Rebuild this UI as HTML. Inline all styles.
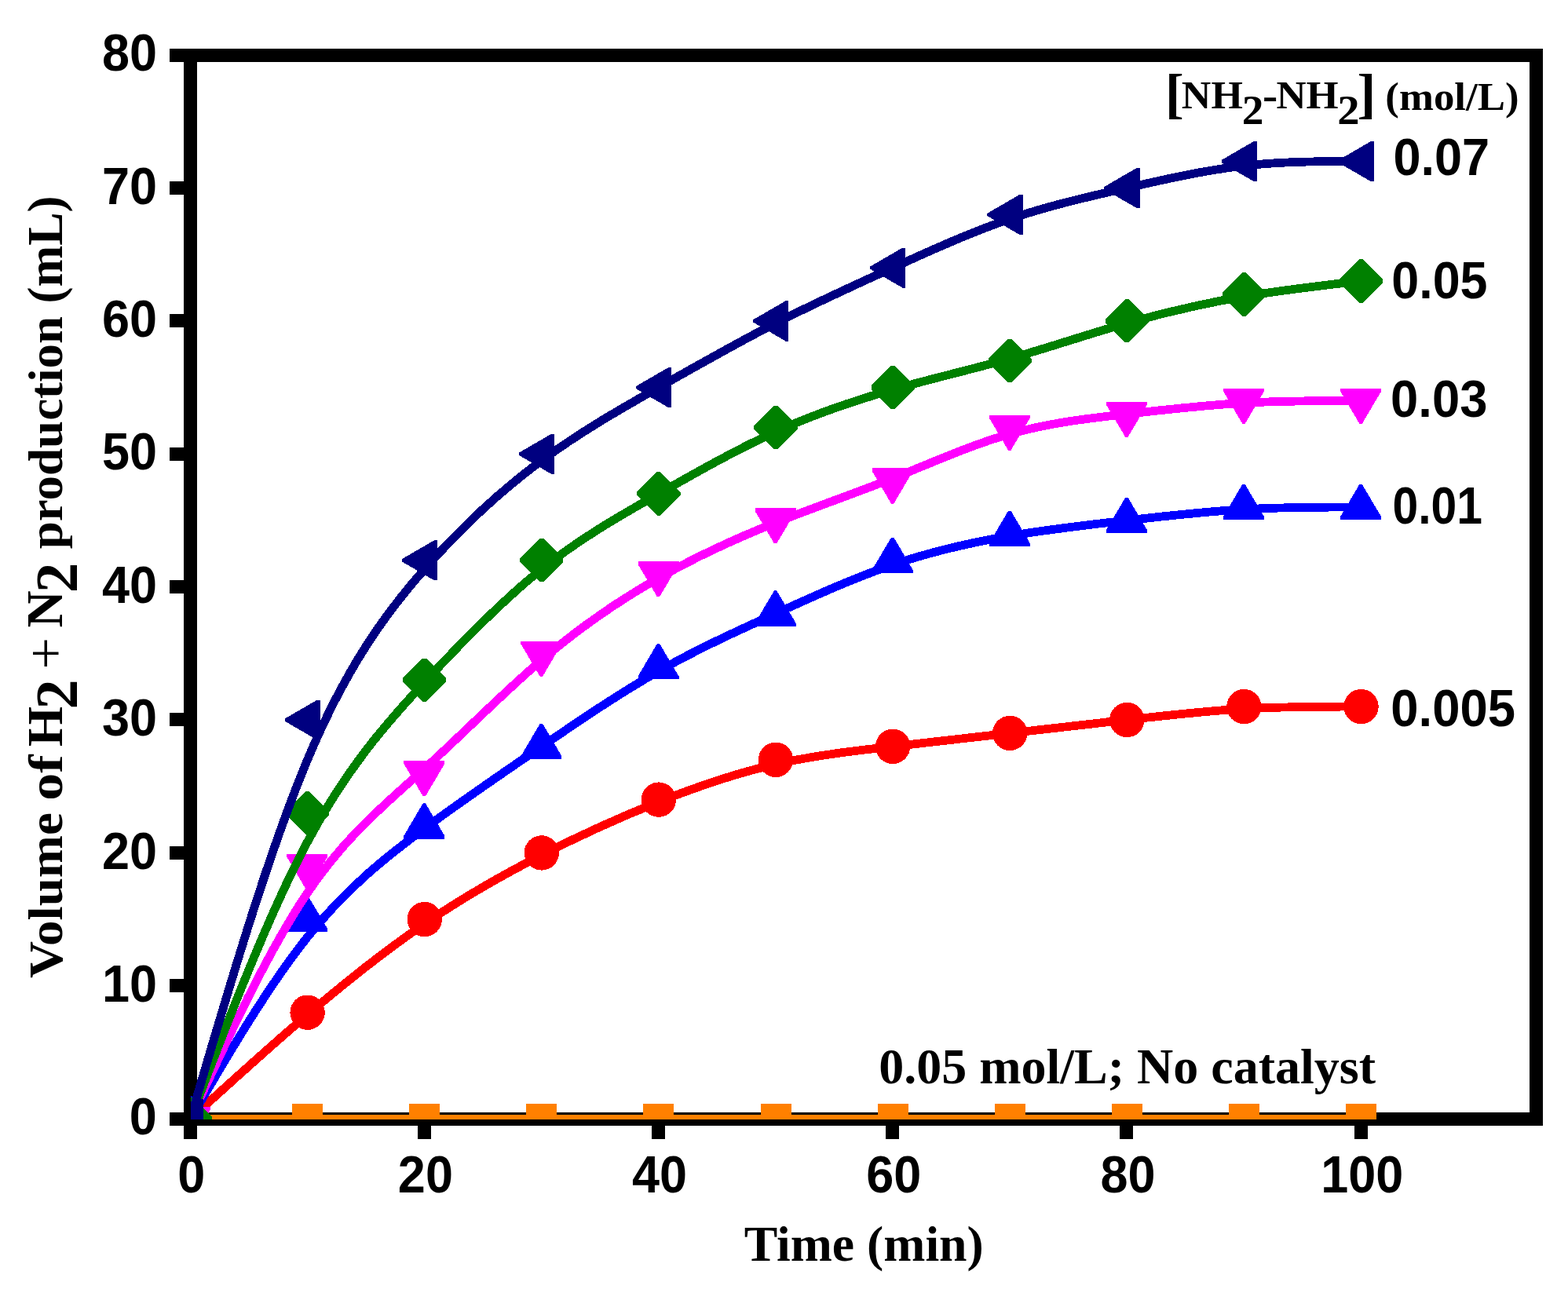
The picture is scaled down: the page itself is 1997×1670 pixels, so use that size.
<!DOCTYPE html>
<html lang="en"><head><meta charset="utf-8"><title>Volume of H2 + N2 production vs Time</title>
<style>
html,body{margin:0;padding:0;background:#fff;}
body{width:1997px;height:1670px;overflow:hidden;}
svg{display:block;}
text{fill:#000;white-space:pre;font-size:100px;}
.sb{font-family:"Liberation Sans",sans-serif;font-weight:bold;}
.rb{font-family:"Liberation Serif",serif;font-weight:bold;}
.rn{font-family:"Liberation Serif",serif;font-weight:normal;}
</style></head><body>
<svg width="1997" height="1670" viewBox="0 0 1997 1670">
<rect width="1997" height="1670" fill="#fff"/>
<defs><clipPath id="plot"><rect x="243" y="70" width="1714" height="1356"/></clipPath></defs>

<g fill="#000" shape-rendering="crispEdges">
<rect x="234" y="62" width="17" height="1389"/>
<rect x="216" y="62" width="1749" height="17"/>
<rect x="1948" y="62" width="17" height="1372"/>
<rect x="216" y="1417" width="1749" height="17"/>
<rect x="216" y="1247" width="18" height="17"/>
<rect x="216" y="1078" width="18" height="17"/>
<rect x="216" y="908" width="18" height="17"/>
<rect x="216" y="739" width="18" height="17"/>
<rect x="216" y="570" width="18" height="17"/>
<rect x="216" y="400" width="18" height="17"/>
<rect x="216" y="231" width="18" height="17"/>
<rect x="532" y="1434" width="17" height="17"/>
<rect x="830" y="1434" width="17" height="17"/>
<rect x="1128" y="1434" width="17" height="17"/>
<rect x="1426" y="1434" width="17" height="17"/>
<rect x="1725" y="1434" width="17" height="17"/>
</g>
<text class="sb" transform="matrix(0.6300,0,0,0.6583,164.85,1445.30)">0</text>
<text class="sb" transform="matrix(0.6300,0,0,0.6583,129.89,1275.92)">10</text>
<text class="sb" transform="matrix(0.6300,0,0,0.6583,129.89,1106.55)">20</text>
<text class="sb" transform="matrix(0.6300,0,0,0.6583,129.89,937.17)">30</text>
<text class="sb" transform="matrix(0.6300,0,0,0.6583,129.89,767.80)">40</text>
<text class="sb" transform="matrix(0.6300,0,0,0.6583,129.89,598.42)">50</text>
<text class="sb" transform="matrix(0.6300,0,0,0.6583,129.89,429.05)">60</text>
<text class="sb" transform="matrix(0.6300,0,0,0.6583,129.89,259.68)">70</text>
<text class="sb" transform="matrix(0.6300,0,0,0.6583,129.89,90.30)">80</text>
<text class="sb" transform="matrix(0.6300,0,0,0.6583,226.18,1518.60)">0</text>
<text class="sb" transform="matrix(0.6300,0,0,0.6583,506.86,1518.60)">20</text>
<text class="sb" transform="matrix(0.6300,0,0,0.6583,805.06,1518.60)">40</text>
<text class="sb" transform="matrix(0.6300,0,0,0.6583,1103.26,1518.60)">60</text>
<text class="sb" transform="matrix(0.6300,0,0,0.6583,1401.46,1518.60)">80</text>
<text class="sb" transform="matrix(0.6300,0,0,0.6583,1682.14,1518.60)">100</text>
<g clip-path="url(#plot)" shape-rendering="crispEdges">
<path d="M242.50,1425.20 C292.20,1425.20 341.90,1425.20 391.60,1425.20 C441.30,1425.20 491.00,1425.20 540.70,1425.20 C590.40,1425.20 640.10,1425.20 689.80,1425.20 C739.50,1425.20 789.20,1425.20 838.90,1425.20 C888.60,1425.20 938.30,1425.20 988.00,1425.20 C1037.70,1425.20 1087.40,1425.20 1137.10,1425.20 C1186.80,1425.20 1236.50,1425.20 1286.20,1425.20 C1335.90,1425.20 1385.60,1425.20 1435.30,1425.20 C1485.00,1425.20 1534.70,1425.20 1584.40,1425.20 C1634.10,1425.20 1683.80,1425.20 1733.50,1425.20" fill="none" stroke="#ff8000" stroke-width="10.8" stroke-linejoin="round"/>
<rect x="223.0" y="1405.8" width="39" height="39" fill="#ff8000"/>
<rect x="372.1" y="1405.8" width="39" height="39" fill="#ff8000"/>
<rect x="521.2" y="1405.8" width="39" height="39" fill="#ff8000"/>
<rect x="670.3" y="1405.8" width="39" height="39" fill="#ff8000"/>
<rect x="819.4" y="1405.8" width="39" height="39" fill="#ff8000"/>
<rect x="968.5" y="1405.8" width="39" height="39" fill="#ff8000"/>
<rect x="1117.6" y="1405.8" width="39" height="39" fill="#ff8000"/>
<rect x="1266.7" y="1405.8" width="39" height="39" fill="#ff8000"/>
<rect x="1415.8" y="1405.8" width="39" height="39" fill="#ff8000"/>
<rect x="1564.9" y="1405.8" width="39" height="39" fill="#ff8000"/>
<rect x="1714.0" y="1405.8" width="39" height="39" fill="#ff8000"/>
<path d="M242.50,1425.20 C292.20,1380.03 341.90,1334.85 391.60,1292.50 C441.30,1250.15 491.00,1210.63 540.70,1176.75 C590.40,1142.87 640.10,1114.63 689.80,1089.22 C739.50,1063.81 789.20,1041.23 838.90,1021.46 C888.60,1001.70 938.30,984.76 988.00,973.47 C1037.70,962.17 1087.40,956.53 1137.10,950.88 C1186.80,945.23 1236.50,939.59 1286.20,933.94 C1335.90,928.29 1385.60,922.65 1435.30,917.00 C1485.00,911.35 1534.70,905.71 1584.40,902.88 C1634.10,900.06 1683.80,900.06 1733.50,900.06" fill="none" stroke="#ff0000" stroke-width="10.8" stroke-linejoin="round"/>
<circle cx="242.5" cy="1425.2" r="22.2" fill="#ff0000"/>
<circle cx="391.6" cy="1289.7" r="22.2" fill="#ff0000"/>
<circle cx="540.7" cy="1171.1" r="22.2" fill="#ff0000"/>
<circle cx="689.8" cy="1086.4" r="22.2" fill="#ff0000"/>
<circle cx="838.9" cy="1018.6" r="22.2" fill="#ff0000"/>
<circle cx="988.0" cy="967.8" r="22.2" fill="#ff0000"/>
<circle cx="1137.1" cy="950.9" r="22.2" fill="#ff0000"/>
<circle cx="1286.2" cy="933.9" r="22.2" fill="#ff0000"/>
<circle cx="1435.3" cy="917.0" r="22.2" fill="#ff0000"/>
<circle cx="1584.4" cy="900.1" r="22.2" fill="#ff0000"/>
<circle cx="1733.5" cy="900.1" r="22.2" fill="#ff0000"/>
<path d="M242.50,1425.20 C292.20,1340.50 341.90,1255.80 391.60,1193.69 C441.30,1131.57 491.00,1092.05 540.70,1055.34 C590.40,1018.64 640.10,984.76 689.80,950.88 C739.50,917.00 789.20,883.12 838.90,854.89 C888.60,826.65 938.30,804.07 988.00,781.48 C1037.70,758.89 1087.40,736.31 1137.10,719.37 C1186.80,702.43 1236.50,691.13 1286.20,682.66 C1335.90,674.19 1385.60,668.55 1435.30,662.90 C1485.00,657.25 1534.70,651.61 1584.40,648.78 C1634.10,645.96 1683.80,645.96 1733.50,645.96" fill="none" stroke="#0000ff" stroke-width="10.8" stroke-linejoin="round"/>
<polygon points="240.5,1396.0 243.7,1396.0 268.1,1437.4 268.1,1441.2 216.1,1441.2 216.1,1437.4" fill="#0000ff"/>
<polygon points="389.6,1141.9 392.8,1141.9 417.2,1183.3 417.2,1187.1 365.2,1187.1 365.2,1183.3" fill="#0000ff"/>
<polygon points="538.7,1023.3 541.9,1023.3 566.3,1064.7 566.3,1068.5 514.3,1068.5 514.3,1064.7" fill="#0000ff"/>
<polygon points="687.8,921.7 691.0,921.7 715.4,963.1 715.4,966.9 663.4,966.9 663.4,963.1" fill="#0000ff"/>
<polygon points="836.9,820.0 840.1,820.0 864.5,861.4 864.5,865.2 812.5,865.2 812.5,861.4" fill="#0000ff"/>
<polygon points="986.0,752.3 989.2,752.3 1013.6,793.7 1013.6,797.5 961.6,797.5 961.6,793.7" fill="#0000ff"/>
<polygon points="1135.1,684.5 1138.3,684.5 1162.7,725.9 1162.7,729.7 1110.7,729.7 1110.7,725.9" fill="#0000ff"/>
<polygon points="1284.2,650.6 1287.4,650.6 1311.8,692.0 1311.8,695.8 1259.8,695.8 1259.8,692.0" fill="#0000ff"/>
<polygon points="1433.3,633.7 1436.5,633.7 1460.9,675.1 1460.9,678.9 1408.9,678.9 1408.9,675.1" fill="#0000ff"/>
<polygon points="1582.4,616.8 1585.6,616.8 1610.0,658.2 1610.0,662.0 1558.0,662.0 1558.0,658.2" fill="#0000ff"/>
<polygon points="1731.5,616.8 1734.7,616.8 1759.1,658.2 1759.1,662.0 1707.1,662.0 1707.1,658.2" fill="#0000ff"/>
<path d="M242.50,1425.20 C292.20,1317.91 341.90,1210.63 391.60,1137.22 C441.30,1063.81 491.00,1024.29 540.70,979.11 C590.40,933.94 640.10,883.12 689.80,840.77 C739.50,798.42 789.20,764.54 838.90,736.31 C888.60,708.07 938.30,685.49 988.00,665.72 C1037.70,645.96 1087.40,629.02 1137.10,609.26 C1186.80,589.49 1236.50,566.91 1286.20,552.79 C1335.90,538.67 1385.60,533.03 1435.30,527.38 C1485.00,521.73 1534.70,516.09 1584.40,513.26 C1634.10,510.44 1683.80,510.44 1733.50,510.44" fill="none" stroke="#ff00ff" stroke-width="10.8" stroke-linejoin="round"/>
<polygon points="240.5,1454.7 243.7,1454.7 268.1,1413.3 268.1,1409.5 216.1,1409.5 216.1,1413.3" fill="#ff00ff"/>
<polygon points="389.6,1132.8 392.8,1132.8 417.2,1091.4 417.2,1087.6 365.2,1087.6 365.2,1091.4" fill="#ff00ff"/>
<polygon points="538.7,1014.3 541.9,1014.3 566.3,972.9 566.3,969.1 514.3,969.1 514.3,972.9" fill="#ff00ff"/>
<polygon points="687.8,861.8 691.0,861.8 715.4,820.4 715.4,816.6 663.4,816.6 663.4,820.4" fill="#ff00ff"/>
<polygon points="836.9,760.2 840.1,760.2 864.5,718.8 864.5,715.0 812.5,715.0 812.5,718.8" fill="#ff00ff"/>
<polygon points="986.0,692.4 989.2,692.4 1013.6,651.0 1013.6,647.2 961.6,647.2 961.6,651.0" fill="#ff00ff"/>
<polygon points="1135.1,641.6 1138.3,641.6 1162.7,600.2 1162.7,596.4 1110.7,596.4 1110.7,600.2" fill="#ff00ff"/>
<polygon points="1284.2,573.8 1287.4,573.8 1311.8,532.4 1311.8,528.6 1259.8,528.6 1259.8,532.4" fill="#ff00ff"/>
<polygon points="1433.3,556.9 1436.5,556.9 1460.9,515.5 1460.9,511.7 1408.9,511.7 1408.9,515.5" fill="#ff00ff"/>
<polygon points="1582.4,539.9 1585.6,539.9 1610.0,498.5 1610.0,494.7 1558.0,494.7 1558.0,498.5" fill="#ff00ff"/>
<polygon points="1731.5,539.9 1734.7,539.9 1759.1,498.5 1759.1,494.7 1707.1,494.7 1707.1,498.5" fill="#ff00ff"/>
<path d="M242.50,1425.20 C292.20,1295.33 341.90,1165.45 391.60,1072.28 C441.30,979.11 491.00,922.65 540.70,869.00 C590.40,815.36 640.10,764.54 689.80,725.01 C739.50,685.49 789.20,657.25 838.90,629.02 C888.60,600.79 938.30,572.55 988.00,549.97 C1037.70,527.38 1087.40,510.44 1137.10,496.32 C1186.80,482.21 1236.50,470.91 1286.20,456.80 C1335.90,442.68 1385.60,425.74 1435.30,411.62 C1485.00,397.51 1534.70,386.21 1584.40,377.74 C1634.10,369.27 1683.80,363.63 1733.50,357.98" fill="none" stroke="#008000" stroke-width="10.8" stroke-linejoin="round"/>
<polygon points="240.2,1397.6 244.8,1397.6 270.1,1422.9 270.1,1427.5 244.8,1452.8 240.2,1452.8 214.9,1427.5 214.9,1422.9" fill="#008000"/>
<polygon points="389.3,1008.0 393.9,1008.0 419.2,1033.3 419.2,1037.9 393.9,1063.2 389.3,1063.2 364.0,1037.9 364.0,1033.3" fill="#008000"/>
<polygon points="538.4,838.6 543.0,838.6 568.3,863.9 568.3,868.5 543.0,893.8 538.4,893.8 513.1,868.5 513.1,863.9" fill="#008000"/>
<polygon points="687.5,686.1 692.1,686.1 717.4,711.4 717.4,716.0 692.1,741.3 687.5,741.3 662.2,716.0 662.2,711.4" fill="#008000"/>
<polygon points="836.6,601.4 841.2,601.4 866.5,626.7 866.5,631.3 841.2,656.6 836.6,656.6 811.3,631.3 811.3,626.7" fill="#008000"/>
<polygon points="985.7,516.7 990.3,516.7 1015.6,542.0 1015.6,546.6 990.3,571.9 985.7,571.9 960.4,546.6 960.4,542.0" fill="#008000"/>
<polygon points="1134.8,465.9 1139.4,465.9 1164.7,491.2 1164.7,495.8 1139.4,521.1 1134.8,521.1 1109.5,495.8 1109.5,491.2" fill="#008000"/>
<polygon points="1283.9,432.0 1288.5,432.0 1313.8,457.3 1313.8,461.9 1288.5,487.2 1283.9,487.2 1258.6,461.9 1258.6,457.3" fill="#008000"/>
<polygon points="1433.0,381.2 1437.6,381.2 1462.9,406.5 1462.9,411.1 1437.6,436.4 1433.0,436.4 1407.7,411.1 1407.7,406.5" fill="#008000"/>
<polygon points="1582.1,347.3 1586.7,347.3 1612.0,372.6 1612.0,377.2 1586.7,402.5 1582.1,402.5 1556.8,377.2 1556.8,372.6" fill="#008000"/>
<polygon points="1731.2,330.4 1735.8,330.4 1761.1,355.7 1761.1,360.3 1735.8,385.6 1731.2,385.6 1705.9,360.3 1705.9,355.7" fill="#008000"/>
<path d="M242.50,1425.20 C292.20,1255.80 341.90,1086.40 391.60,967.82 C441.30,849.24 491.00,781.48 540.70,725.01 C590.40,668.55 640.10,623.37 689.80,586.67 C739.50,549.97 789.20,521.73 838.90,493.50 C888.60,465.27 938.30,437.03 988.00,411.62 C1037.70,386.21 1087.40,363.63 1137.10,341.04 C1186.80,318.45 1236.50,295.87 1286.20,278.93 C1335.90,261.99 1385.60,250.69 1435.30,239.40 C1485.00,228.11 1534.70,216.81 1584.40,211.17 C1634.10,205.52 1683.80,205.52 1733.50,205.52" fill="none" stroke="#000080" stroke-width="10.8" stroke-linejoin="round"/>
<polygon points="213.6,1423.7 213.6,1426.9 255.0,1450.9 258.8,1450.9 258.8,1399.7 255.0,1399.7" fill="#000080"/>
<polygon points="362.7,915.5 362.7,918.7 404.1,942.7 407.9,942.7 407.9,891.5 404.1,891.5" fill="#000080"/>
<polygon points="511.8,712.2 511.8,715.4 553.2,739.4 557.0,739.4 557.0,688.2 553.2,688.2" fill="#000080"/>
<polygon points="660.9,576.7 660.9,579.9 702.3,603.9 706.1,603.9 706.1,552.7 702.3,552.7" fill="#000080"/>
<polygon points="810.0,492.0 810.0,495.2 851.4,519.2 855.2,519.2 855.2,468.0 851.4,468.0" fill="#000080"/>
<polygon points="959.1,407.3 959.1,410.5 1000.5,434.5 1004.3,434.5 1004.3,383.3 1000.5,383.3" fill="#000080"/>
<polygon points="1108.2,339.5 1108.2,342.7 1149.6,366.7 1153.4,366.7 1153.4,315.5 1149.6,315.5" fill="#000080"/>
<polygon points="1257.3,271.8 1257.3,275.0 1298.7,299.0 1302.5,299.0 1302.5,247.8 1298.7,247.8" fill="#000080"/>
<polygon points="1406.4,237.9 1406.4,241.1 1447.8,265.1 1451.6,265.1 1451.6,213.9 1447.8,213.9" fill="#000080"/>
<polygon points="1555.5,204.0 1555.5,207.2 1596.9,231.2 1600.7,231.2 1600.7,180.0 1596.9,180.0" fill="#000080"/>
<polygon points="1704.6,204.0 1704.6,207.2 1746.0,231.2 1749.8,231.2 1749.8,180.0 1746.0,180.0" fill="#000080"/>
</g>
<text class="sb" transform="matrix(0.6309,0,0,0.6599,1774.43,223.14)">0.07</text>
<text class="sb" transform="matrix(0.6282,0,0,0.6634,1772.29,380.34)">0.05</text>
<text class="sb" transform="matrix(0.6340,0,0,0.6648,1771.11,531.34)">0.03</text>
<text class="sb" transform="matrix(0.5883,0,0,0.6634,1773.45,667.34)">0.01</text>
<text class="sb" transform="matrix(0.6345,0,0,0.6606,1771.26,925.14)">0.005</text>
<text class="rb" transform="matrix(0.6372,0,0,0.6378,947.74,1605.81)">Time (min)</text>
<text class="rb" transform="matrix(0.6402,0,0,0.6267,1119.24,1379.94)">0.05 mol/L; No catalyst</text>
<text class="rb" transform="matrix(0.7227,0,0,0.6982,1483.68,143.17)">[</text>
<text class="rb" transform="matrix(0.5201,0,0,0.5099,1504.86,138.40)">NH</text>
<text class="rb" transform="matrix(0.5542,0,0,0.5348,1581.68,157.80)">2</text>
<text class="rb" transform="matrix(0.5769,0,0,0.5529,1608.08,140.31)">-</text>
<text class="rb" transform="matrix(0.5283,0,0,0.5099,1625.44,138.40)">NH</text>
<text class="rb" transform="matrix(0.5663,0,0,0.5348,1703.13,157.80)">2</text>
<text class="rb" transform="matrix(0.7156,0,0,0.6982,1728.50,143.17)">]</text>
<text class="rb" transform="matrix(0.5285,0,0,0.5078,1764.32,139.74)">(mol/L)</text>
<g transform="rotate(-90)">
<text class="rb" transform="matrix(0.6505,0,0,0.6145,-1245.95,79.00)">Volume</text>
<text class="rb" transform="matrix(0.6969,0,0,0.6086,-1019.69,79.00)">of</text>
<text class="rb" transform="matrix(0.6577,0,0,0.6397,-950.99,79.00)">H</text>
<text class="rb" transform="matrix(0.7590,0,0,0.7621,-903.54,97.90)">2</text>
<text class="rn" transform="matrix(0.7204,0,0,0.6913,-852.40,81.71)">+</text>
<text class="rb" transform="matrix(0.6536,0,0,0.6446,-799.41,79.00)">N</text>
<text class="rb" transform="matrix(0.7711,0,0,0.7621,-755.28,97.90)">2</text>
<text class="rb" transform="matrix(0.6299,0,0,0.6144,-699.24,79.00)">production</text>
<text class="rb" transform="matrix(0.6337,0,0,0.6367,-386.55,79.13)">(mL)</text>
</g>
</svg></body></html>
